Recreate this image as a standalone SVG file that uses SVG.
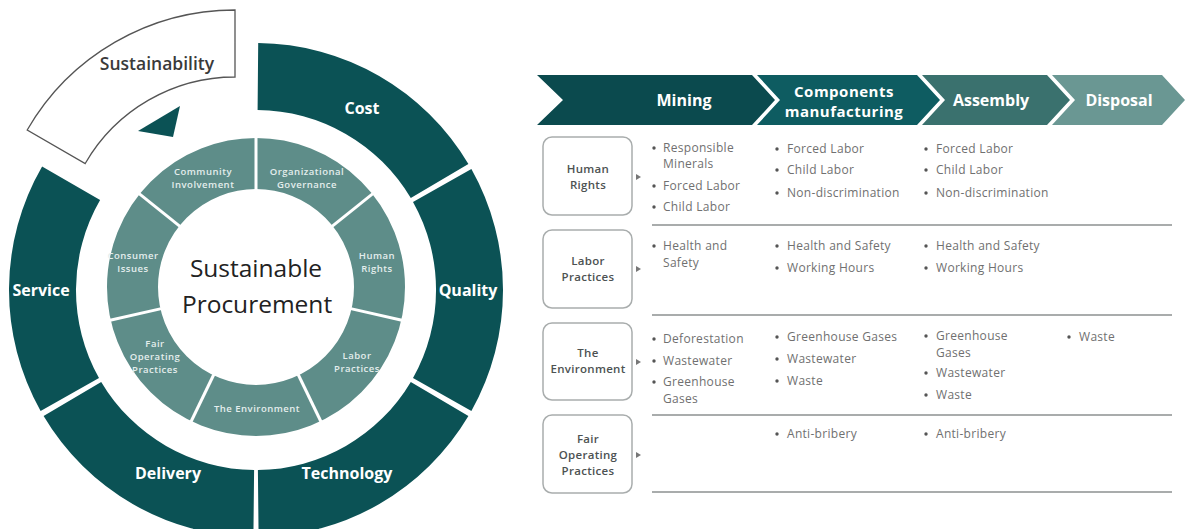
<svg xmlns="http://www.w3.org/2000/svg" width="1186" height="529" viewBox="0 0 1186 529">
<style>
.outer{fill:#0b5255}
.mid{fill:none;stroke:#5e8d89}
.sep{stroke:#fff;stroke-width:3}
.ol{font-family:"Open Sans","Liberation Sans",sans-serif;font-weight:700;font-size:16px;fill:#fff;text-anchor:middle}
.ml{font-family:"Open Sans","Liberation Sans",sans-serif;font-weight:600;font-size:9.5px;letter-spacing:0.5px;fill:#e4eeed;text-anchor:middle}
.ctr{font-family:"Open Sans","Liberation Sans",sans-serif;font-size:24.5px;fill:#222;text-anchor:middle}
.chl{font-family:"Open Sans","Liberation Sans",sans-serif;font-weight:700;font-size:16px;fill:#fff;text-anchor:middle}
.chs{font-family:"Open Sans","Liberation Sans",sans-serif;font-weight:700;font-size:15px;letter-spacing:0.5px;fill:#fff;text-anchor:middle}
.box{fill:#fff;stroke:#a9adad;stroke-width:1.5}
.bl{font-family:"Open Sans","Liberation Sans",sans-serif;font-weight:600;font-size:11.5px;letter-spacing:0.3px;fill:#4d5252;text-anchor:middle}
.t{font-family:"Open Sans","Liberation Sans",sans-serif;font-size:12px;letter-spacing:0.3px;fill:#707070}
.bu{fill:#555}
.rl{stroke:#8c9191;stroke-width:1.5}
.arr{fill:#777}
</style>
<defs>
<circle id="b" r="1.7" class="bu"/>
</defs>

<g id="wheel">
  <g id="cost"><path class="outer" d="M258.2,43 A247,247 0 0 1 468.4,163.9 L410.8,198.1 A180,180 0 0 0 257.6,110 Z"/><text class="ol" x="362" y="114">Cost</text></g>
  <g id="quality"><path class="outer" d="M471.4,169.1 A247,247 0 0 1 471.4,410.9 L413,378.1 A180,180 0 0 0 413,201.9 Z"/><text class="ol" x="468" y="296">Quality</text></g>
  <g id="technology"><path class="outer" d="M468.4,416.1 A247,247 0 0 1 258.6,537 L257.9,470 A180,180 0 0 0 410.8,381.9 Z"/><text class="ol" x="347" y="479">Technology</text></g>
  <g id="delivery"><path class="outer" d="M253.4,537 A247,247 0 0 1 43.6,416.1 L101.2,381.9 A180,180 0 0 0 254.1,470 Z"/><text class="ol" x="168" y="479">Delivery</text></g>
  <g id="service"><path class="outer" d="M40.6,410.9 A247,247 0 0 1 42.1,166.5 L100.1,200 A180,180 0 0 0 99,378.1 Z"/><text class="ol" x="41" y="296">Service</text></g>
  <g id="sustainability">
    <path d="M27.2,130 A240,240 0 0 1 235,10 L235,77 A173,173 0 0 0 85.2,163.5 Z" fill="#fff" stroke="#555" stroke-width="1.3"/>
    <text x="157" y="70" font-family="Open Sans, Liberation Sans, sans-serif" font-weight="600" font-size="17.5" fill="#3a3a3a" text-anchor="middle">Sustainability</text>
    <polygon points="138,131 180,106 173,137" fill="#0b5255"/>
  </g>
  <g id="inner-ring">
    <circle class="mid" cx="256" cy="287" r="123.5" stroke-width="51"/>
    <line class="sep" x1="256" y1="193" x2="256" y2="133"/>
    <line class="sep" x1="331.1" y1="227.1" x2="376" y2="191.2"/>
    <line class="sep" x1="349.6" y1="308.4" x2="405.2" y2="321"/>
    <line class="sep" x1="297.7" y1="373.5" x2="322.6" y2="425"/>
    <line class="sep" x1="214.3" y1="373.5" x2="189.4" y2="425"/>
    <line class="sep" x1="162.4" y1="308.4" x2="106.8" y2="321"/>
    <line class="sep" x1="180.9" y1="227.1" x2="136" y2="191.2"/>
  </g>
  <g id="community"><text class="ml" x="203" y="174.5">Community</text><text class="ml" x="203" y="187.5">Involvement</text></g>
  <g id="organizational"><text class="ml" x="307" y="174.5">Organizational</text><text class="ml" x="307" y="187.5">Governance</text></g>
  <g id="human-rights-seg"><text class="ml" x="377" y="258.5">Human</text><text class="ml" x="377" y="271.5">Rights</text></g>
  <g id="labor-seg"><text class="ml" x="357" y="358.5">Labor</text><text class="ml" x="357" y="371.5">Practices</text></g>
  <g id="environment-seg"><text class="ml" x="257" y="411.5">The Environment</text></g>
  <g id="fair-seg"><text class="ml" x="155" y="346.5">Fair</text><text class="ml" x="155" y="359.5">Operating</text><text class="ml" x="155" y="372.5">Practices</text></g>
  <g id="consumer-seg"><text class="ml" x="133" y="258.5">Consumer</text><text class="ml" x="133" y="271.5">Issues</text></g>
  <g id="center"><text class="ctr" x="256" y="277">Sustainable</text><text class="ctr" x="257" y="313">Procurement</text></g>
</g>

<g id="chevrons">
  <g id="mining"><polygon points="537,75 752,75 775,100 752,125 537,125 563,100" fill="#0b4a4e"/><text class="chl" x="684" y="106">Mining</text></g>
  <g id="components"><polygon points="757,75 917,75 940,100 917,125 757,125 780,100" fill="#0e5c61"/><text class="chs" x="844" y="96.5">Components</text><text class="chs" x="844" y="117">manufacturing</text></g>
  <g id="assembly"><polygon points="922,75 1047,75 1070,100 1047,125 922,125 945,100" fill="#3a716e"/><text class="chl" x="991" y="106">Assembly</text></g>
  <g id="disposal"><polygon points="1052,75 1162,75 1185,100 1162,125 1052,125 1075,100" fill="#6a9793"/><text class="chl" x="1119" y="106">Disposal</text></g>
</g>

<g id="row-human-rights">
  <rect class="box" x="543" y="137" width="89" height="78" rx="9"/>
  <text class="bl" x="588" y="172.5">Human</text><text class="bl" x="588" y="188.5">Rights</text>
  <use href="#b" x="654" y="148"/><text class="t" x="663" y="151.5">Responsible</text><text class="t" x="663" y="168">Minerals</text>
  <use href="#b" x="654" y="186"/><text class="t" x="663" y="190">Forced Labor</text>
  <use href="#b" x="654" y="207"/><text class="t" x="663" y="211">Child Labor</text>
  <use href="#b" x="777" y="149"/><text class="t" x="787" y="153">Forced Labor</text>
  <use href="#b" x="777" y="170"/><text class="t" x="787" y="174">Child Labor</text>
  <use href="#b" x="777" y="193"/><text class="t" x="787" y="197">Non-discrimination</text>
  <use href="#b" x="926" y="149"/><text class="t" x="936" y="153">Forced Labor</text>
  <use href="#b" x="926" y="170"/><text class="t" x="936" y="174">Child Labor</text>
  <use href="#b" x="926" y="193"/><text class="t" x="936" y="197">Non-discrimination</text>
</g>

<g id="row-labor">
  <rect class="box" x="543" y="230" width="89" height="78" rx="9"/>
  <text class="bl" x="588" y="264.5">Labor</text><text class="bl" x="588" y="280.5">Practices</text>
  <use href="#b" x="654" y="246"/><text class="t" x="663" y="250">Health and</text><text class="t" x="663" y="266.5">Safety</text>
  <use href="#b" x="777" y="246"/><text class="t" x="787" y="250">Health and Safety</text>
  <use href="#b" x="777" y="268"/><text class="t" x="787" y="272">Working Hours</text>
  <use href="#b" x="926" y="246"/><text class="t" x="936" y="250">Health and Safety</text>
  <use href="#b" x="926" y="268"/><text class="t" x="936" y="272">Working Hours</text>
</g>

<g id="row-environment">
  <rect class="box" x="543" y="323" width="89" height="77" rx="9"/>
  <text class="bl" x="588" y="357">The</text><text class="bl" x="588" y="373">Environment</text>
  <use href="#b" x="654" y="339"/><text class="t" x="663" y="343">Deforestation</text>
  <use href="#b" x="654" y="361"/><text class="t" x="663" y="365">Wastewater</text>
  <use href="#b" x="654" y="382"/><text class="t" x="663" y="386">Greenhouse</text><text class="t" x="663" y="402.5">Gases</text>
  <use href="#b" x="777" y="337"/><text class="t" x="787" y="341">Greenhouse Gases</text>
  <use href="#b" x="777" y="359"/><text class="t" x="787" y="363">Wastewater</text>
  <use href="#b" x="777" y="381"/><text class="t" x="787" y="385">Waste</text>
  <use href="#b" x="926" y="336"/><text class="t" x="936" y="340">Greenhouse</text><text class="t" x="936" y="356.5">Gases</text>
  <use href="#b" x="926" y="373"/><text class="t" x="936" y="377">Wastewater</text>
  <use href="#b" x="926" y="395"/><text class="t" x="936" y="399">Waste</text>
  <use href="#b" x="1069" y="337"/><text class="t" x="1079" y="341">Waste</text>
</g>

<g id="row-fair">
  <rect class="box" x="543" y="415" width="89" height="78" rx="9"/>
  <text class="bl" x="588" y="443">Fair</text><text class="bl" x="588" y="459">Operating</text><text class="bl" x="588" y="475">Practices</text>
  <use href="#b" x="777" y="434"/><text class="t" x="787" y="438">Anti-bribery</text>
  <use href="#b" x="926" y="434"/><text class="t" x="936" y="438">Anti-bribery</text>
</g>

<g id="connectors">
  <line class="rl" x1="652" y1="225" x2="1172" y2="225"/>
  <line class="rl" x1="652" y1="315" x2="1172" y2="315"/>
  <line class="rl" x1="652" y1="415" x2="1172" y2="415"/>
  <line class="rl" x1="652" y1="492" x2="1172" y2="492"/>
  <polygon class="arr" points="636,174 641,177 636,180"/>
  <polygon class="arr" points="636,266 641,269 636,272"/>
  <polygon class="arr" points="636,359 641,362 636,365"/>
  <polygon class="arr" points="636,452 641,455 636,458"/>
</g>
</svg>
